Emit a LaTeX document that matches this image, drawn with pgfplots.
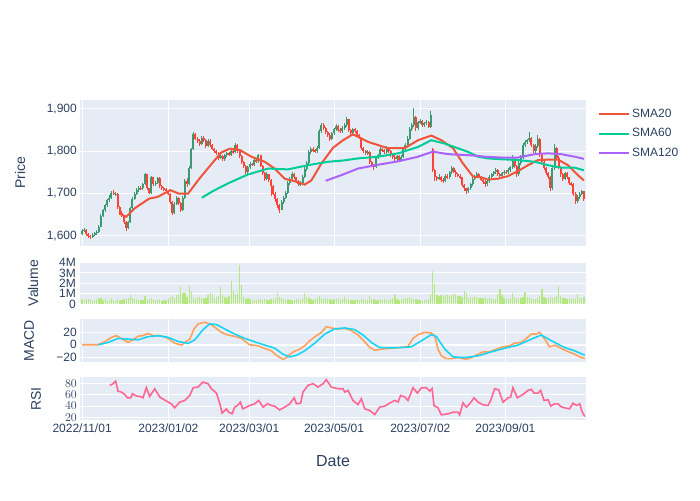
\documentclass[border=0pt]{standalone}
\usepackage{fontspec}
\setmainfont{Liberation Sans}
\usepackage{pgfplots}
\usepackage{pgfplotstable}
\pgfplotsset{compat=1.18}

\definecolor{plotbg}{HTML}{E5ECF6}
\definecolor{txt}{HTML}{2A3F5F}
\definecolor{incr}{HTML}{3D9970}
\definecolor{decr}{HTML}{FF4136}
\definecolor{sma20}{HTML}{EF553B}
\definecolor{sma60}{HTML}{00CC96}
\definecolor{sma120}{HTML}{AB63FA}
\definecolor{macdc}{HTML}{FFA15A}
\definecolor{sigc}{HTML}{19D3F3}
\definecolor{rsic}{HTML}{FF6692}
\definecolor{volc}{HTML}{B6E880}

% daily candles: index, open, high, low, close, volume (millions)
\pgfplotstableread{
i o h l c v
0 1605 1616 1601 1612 0.45
1 1612 1618 1608 1614 0.40
2 1614 1616 1600 1604 0.50
3 1604 1607 1596 1600 0.50
4 1600 1603 1592 1597 0.45
5 1597 1606 1594 1603 0.30
6 1603 1610 1600 1606 0.35
7 1606 1614 1603 1610 0.45
8 1610 1625 1607 1622 0.55
9 1622 1652 1620 1648 0.60
10 1648 1664 1644 1660 0.40
11 1660 1676 1656 1672 0.45
12 1672 1688 1668 1684 0.30
13 1684 1696 1680 1690 0.40
14 1690 1706 1686 1702 0.55
15 1702 1708 1696 1700 0.35
16 1698 1704 1694 1699 0.30
17 1699 1702 1664 1668 0.45
18 1668 1670 1650 1655 0.35
19 1655 1658 1644 1648 0.40
20 1648 1650 1628 1632 0.50
21 1632 1634 1612 1618 0.45
22 1618 1636 1615 1632 0.60
23 1632 1668 1630 1665 0.90
24 1665 1692 1662 1688 0.55
25 1688 1704 1684 1700 0.50
26 1700 1712 1696 1708 0.45
27 1708 1718 1704 1714 0.40
28 1714 1718 1708 1712 0.35
29 1712 1726 1708 1722 0.40
30 1722 1748 1720 1745 0.75
31 1745 1746 1708 1712 0.45
32 1712 1714 1698 1702 0.50
33 1702 1742 1700 1738 0.55
34 1738 1740 1718 1722 0.40
35 1722 1730 1718 1726 0.35
36 1726 1740 1722 1736 0.40
37 1736 1738 1714 1718 0.45
38 1718 1720 1708 1712 0.30
39 1712 1716 1706 1710 0.40
40 1710 1712 1701 1705 0.35
41 1705 1708 1696 1700 0.50
42 1700 1702 1676 1680 0.65
43 1680 1682 1650 1654 0.75
44 1654 1680 1652 1676 0.60
45 1676 1694 1672 1690 0.85
46 1690 1692 1674 1678 1.00
47 1678 1680 1656 1660 1.60
48 1660 1694 1658 1690 1.05
49 1690 1734 1688 1730 1.05
50 1730 1736 1716 1722 0.70
51 1722 1764 1720 1760 1.70
52 1760 1808 1758 1805 1.30
53 1805 1845 1802 1840 0.60
54 1840 1842 1826 1830 0.50
55 1830 1834 1820 1825 0.70
56 1825 1828 1812 1818 0.70
57 1818 1836 1815 1832 0.60
58 1832 1835 1822 1826 0.55
59 1826 1828 1808 1812 0.60
60 1812 1830 1810 1825 0.90
61 1825 1828 1810 1815 1.10
62 1815 1818 1802 1806 0.95
63 1806 1808 1796 1800 0.60
64 1800 1803 1790 1795 0.70
65 1795 1798 1780 1785 0.75
66 1785 1792 1781 1788 1.65
67 1788 1790 1777 1782 0.85
68 1782 1794 1778 1790 0.65
69 1790 1799 1786 1795 0.60
70 1795 1798 1788 1792 0.80
71 1792 1805 1789 1800 2.20
72 1800 1804 1794 1798 1.30
73 1798 1820 1795 1815 1.00
74 1815 1817 1796 1800 1.10
75 1800 1802 1784 1788 3.80
76 1788 1790 1770 1775 1.85
77 1775 1778 1760 1765 0.65
78 1765 1767 1745 1750 0.50
79 1750 1766 1747 1762 0.55
80 1762 1774 1758 1770 0.45
81 1770 1773 1764 1768 0.40
82 1768 1784 1765 1780 0.35
83 1780 1782 1772 1776 0.40
84 1776 1794 1773 1790 0.45
85 1790 1792 1762 1765 0.50
86 1765 1767 1744 1748 0.40
87 1748 1750 1730 1735 0.45
88 1735 1750 1732 1745 0.35
89 1745 1747 1728 1732 0.40
90 1732 1734 1695 1718 0.50
91 1718 1720 1696 1700 0.45
92 1700 1703 1680 1686 0.60
93 1686 1690 1666 1672 1.10
94 1672 1675 1655 1662 0.70
95 1662 1684 1660 1680 0.55
96 1680 1694 1676 1690 0.50
97 1690 1706 1686 1702 0.40
98 1702 1729 1700 1725 0.45
99 1725 1739 1721 1735 0.40
100 1735 1750 1731 1745 0.35
101 1745 1748 1734 1738 0.40
102 1738 1740 1726 1730 0.45
103 1730 1733 1718 1722 0.50
104 1722 1730 1718 1725 0.40
105 1725 1744 1722 1740 0.55
106 1740 1762 1736 1758 1.10
107 1758 1776 1754 1772 0.70
108 1772 1802 1770 1798 0.60
109 1798 1810 1794 1806 0.50
110 1806 1810 1798 1802 0.40
111 1802 1806 1796 1800 0.45
112 1800 1812 1796 1808 0.60
113 1808 1852 1806 1848 0.80
114 1848 1866 1844 1862 0.60
115 1862 1866 1850 1855 0.50
116 1855 1858 1840 1845 0.60
117 1845 1848 1833 1838 0.45
118 1838 1842 1825 1830 0.50
119 1830 1846 1827 1842 0.40
120 1842 1856 1838 1852 0.45
121 1852 1864 1848 1860 0.50
122 1860 1862 1846 1850 0.55
123 1850 1854 1843 1848 0.40
124 1848 1859 1844 1855 0.50
125 1855 1866 1850 1862 0.65
126 1862 1880 1858 1875 0.50
127 1875 1877 1845 1850 0.45
128 1850 1853 1838 1842 0.40
129 1842 1856 1838 1852 0.35
130 1852 1855 1843 1848 0.40
131 1848 1850 1834 1838 0.45
132 1838 1840 1828 1832 0.40
133 1832 1834 1804 1808 0.50
134 1808 1811 1795 1800 0.45
135 1800 1804 1790 1795 0.40
136 1795 1802 1792 1798 0.35
137 1798 1800 1770 1775 0.75
138 1775 1778 1762 1768 0.50
139 1768 1770 1756 1762 0.45
140 1762 1789 1760 1785 0.40
141 1785 1794 1781 1790 0.35
142 1790 1809 1787 1805 0.50
143 1805 1808 1798 1802 0.40
144 1802 1805 1794 1798 0.45
145 1798 1812 1794 1808 0.40
146 1808 1810 1796 1800 0.35
147 1800 1803 1786 1790 0.50
148 1790 1793 1781 1786 0.60
149 1786 1790 1778 1782 0.90
150 1782 1792 1778 1788 0.50
151 1788 1790 1776 1780 0.40
152 1780 1790 1776 1786 0.45
153 1786 1809 1783 1805 0.50
154 1805 1820 1802 1815 0.55
155 1815 1836 1812 1830 0.60
156 1830 1857 1827 1852 0.65
157 1852 1866 1848 1862 0.55
158 1862 1902 1858 1880 0.50
159 1880 1882 1848 1855 0.45
160 1855 1872 1850 1868 0.40
161 1868 1876 1864 1872 0.35
162 1872 1874 1858 1862 0.30
163 1862 1870 1858 1866 0.35
164 1866 1874 1862 1870 0.40
165 1870 1872 1854 1858 0.45
166 1858 1895 1855 1885 1.00
167 1805 1808 1750 1755 3.20
168 1755 1758 1730 1738 1.95
169 1738 1742 1730 1735 0.85
170 1735 1745 1731 1740 0.80
171 1740 1742 1728 1732 0.85
172 1732 1736 1726 1730 0.80
173 1730 1746 1727 1742 0.85
174 1742 1745 1734 1738 0.90
175 1738 1754 1735 1750 0.80
176 1750 1765 1746 1760 0.85
177 1760 1763 1748 1752 0.95
178 1752 1755 1740 1745 1.00
179 1745 1748 1738 1742 0.80
180 1742 1745 1734 1738 0.75
181 1738 1740 1716 1720 0.70
182 1720 1722 1707 1712 1.30
183 1712 1714 1698 1705 1.05
184 1705 1716 1702 1712 0.60
185 1712 1726 1708 1722 0.65
186 1722 1739 1718 1735 0.60
187 1735 1744 1731 1740 0.75
188 1740 1750 1736 1746 0.70
189 1746 1749 1736 1740 0.60
190 1740 1742 1729 1733 0.55
191 1733 1736 1723 1728 0.60
192 1728 1731 1716 1722 0.65
193 1722 1734 1718 1730 0.50
194 1730 1744 1726 1740 0.55
195 1740 1749 1736 1745 0.50
196 1745 1754 1741 1750 0.45
197 1750 1760 1746 1755 0.50
198 1755 1757 1741 1745 1.00
199 1745 1748 1738 1742 1.40
200 1742 1752 1738 1748 0.90
201 1748 1756 1744 1752 0.60
202 1752 1755 1746 1750 0.50
203 1750 1760 1746 1756 0.45
204 1756 1766 1752 1762 0.55
205 1762 1790 1758 1782 1.05
206 1782 1784 1760 1765 0.70
207 1765 1767 1740 1745 0.60
208 1745 1776 1742 1772 0.50
209 1772 1790 1768 1785 0.55
210 1785 1820 1782 1815 0.65
211 1815 1827 1811 1822 1.15
212 1822 1830 1818 1826 0.70
213 1826 1845 1822 1832 0.60
214 1832 1834 1810 1815 0.55
215 1815 1817 1795 1800 0.50
216 1800 1816 1796 1812 0.45
217 1812 1838 1808 1830 0.60
218 1830 1832 1786 1790 0.80
219 1790 1793 1770 1775 1.45
220 1775 1778 1755 1760 0.70
221 1760 1762 1743 1748 0.60
222 1748 1751 1735 1740 0.55
223 1740 1742 1706 1712 0.70
224 1712 1764 1708 1760 0.60
225 1760 1818 1756 1808 0.65
226 1808 1810 1780 1785 0.80
227 1785 1788 1758 1762 1.70
228 1762 1765 1740 1745 0.75
229 1745 1748 1730 1735 0.60
230 1735 1752 1732 1748 0.55
231 1748 1750 1734 1738 0.50
232 1738 1740 1720 1725 0.45
233 1725 1728 1717 1722 0.55
234 1722 1724 1695 1700 0.50
235 1700 1703 1676 1682 0.60
236 1682 1696 1678 1692 1.00
237 1692 1704 1688 1700 0.55
238 1700 1709 1696 1705 0.60
239 1705 1707 1682 1686 0.70
}\candles

\pgfplotsset{
  panel/.style={
    scale only axis, width=506pt, xmin=-1, xmax=240,
    anchor=south west,
    axis background/.style={fill=plotbg},
    axis line style={draw=none},
    major tick length=0pt,
    xmajorgrids, ymajorgrids,
    major grid style={white, line width=1pt},
    tick label style={font=\fontsize{12}{13}\selectfont, text=txt},
    yticklabel style={inner sep=1pt, xshift=-2pt},
    xtick={0,41.1,79.6,120,161.1,201.6},
    xticklabels={},
  },
  candle/.style 2 args={draw=none, forget plot,
    error bars/.cd, y dir=both, y explicit, error mark=none,
    error bar style={draw=#1, solid, line width=#2}},
}

\begin{document}
\begin{tikzpicture}
\path[use as bounding box] (0,0) rectangle (700pt,500pt);

% ---------- price panel ----------
\begin{axis}[panel, at={(80pt,254pt)}, height=146pt,
  ymin=1576, ymax=1921,
  ytick={1600,1700,1800,1900},
  yticklabels={{1,600},{1,700},{1,800},{1,900}},
  legend style={at={(1,1)}, anchor=north west, xshift=12pt, yshift=-7pt,
    draw=none, fill=none, font=\fontsize{12}{14}\selectfont, text=txt,
    row sep=5.5pt, inner sep=0pt},
  legend cell align=left,
  legend image code/.code={\draw[#1, line width=2pt] (0pt,0pt) -- (30pt,0pt);},
]
% wicks
\addplot[restrict expr to domain={\thisrow{c}-\thisrow{o}}{0:1000}, candle={incr}{1pt}]
  table[x=i, y expr={0.5*(\thisrow{h}+\thisrow{l})}, y error expr={0.5*(\thisrow{h}-\thisrow{l})}] {\candles};
\addplot[restrict expr to domain={\thisrow{o}-\thisrow{c}}{0.001:1000}, candle={decr}{1pt}]
  table[x=i, y expr={0.5*(\thisrow{h}+\thisrow{l})}, y error expr={0.5*(\thisrow{h}-\thisrow{l})}] {\candles};
% bodies
\addplot[restrict expr to domain={\thisrow{c}-\thisrow{o}}{0:1000}, candle={incr}{2pt}]
  table[x=i, y expr={0.5*(\thisrow{o}+\thisrow{c})}, y error expr={0.5*(\thisrow{c}-\thisrow{o})}] {\candles};
\addplot[restrict expr to domain={\thisrow{o}-\thisrow{c}}{0.001:1000}, candle={decr}{2pt}]
  table[x=i, y expr={0.5*(\thisrow{o}+\thisrow{c})}, y error expr={0.5*(\thisrow{o}-\thisrow{c})}] {\candles};

\addplot[sma20, line width=2pt] coordinates {
(18,1652) (21,1645) (25,1665) (32,1688) (36,1692) (42,1708) (46,1700) (50.5,1700)
(56,1736) (60,1760) (63.2,1779) (66.3,1797) (70.3,1806) (75.1,1803) (80.6,1787)
(87,1775) (91.7,1759) (96.5,1735) (102,1728) (106,1721) (109.2,1731) (114,1771)
(119.5,1808) (124.3,1826) (129,1840) (136.2,1822) (145.7,1807) (153.6,1807)
(160,1826) (166.3,1837) (171.1,1826) (176.7,1807) (181.4,1771) (186.2,1740)
(190.2,1738) (193.3,1733) (198,1735) (202.8,1741) (207.6,1753) (212.4,1767)
(217.1,1779) (221.9,1780) (226.7,1780) (231.4,1767) (236.2,1743) (239,1731)};
\addlegendentry{SMA20}
\addplot[sma60, line width=2pt] coordinates {
(57,1690) (62.4,1706) (69.5,1724) (79,1745) (88.6,1759) (98,1757) (107.6,1767)
(117.1,1775) (124.3,1778) (131.4,1783) (141,1787) (150.5,1795) (160,1810)
(166.3,1826) (172.7,1818) (179,1807) (184,1798) (188.6,1787) (193.3,1783)
(199.7,1781) (207.6,1779) (215.5,1775) (221.9,1767) (228.2,1761) (234.6,1761) (239,1755)};
\addlegendentry{SMA60}
\addplot[sma120, line width=2pt] coordinates {
(116,1730) (124.3,1745) (131.4,1759) (141,1768) (150.5,1776) (160,1787)
(167.1,1799) (174.3,1793) (186.2,1790) (191.7,1787) (199.7,1785) (207.6,1785)
(215.5,1793) (221.9,1795) (228.2,1793) (234.6,1787) (239,1782)};
\addlegendentry{SMA120}
\end{axis}

% ---------- volume panel ----------
\begin{axis}[panel, at={(80pt,196pt)}, height=42pt,
  xmajorgrids=false,
  ymin=0, ymax=4.05,
  ytick={0,1,2,3,4}, yticklabels={0,1M,2M,3M,4M},
  yticklabel style={inner sep=0pt, xshift=-2pt},
]
\addplot[ycomb, volc, line width=1.3pt, mark=none] table[x=i, y=v] {\candles};
\end{axis}

% ---------- MACD panel ----------
\begin{axis}[panel, at={(80pt,138pt)}, height=43pt,
  ymin=-28, ymax=42,
  ytick={-20,0,20}, yticklabels={−20,0,20},
]
\addplot[white, line width=2pt, forget plot] coordinates {(-1,0) (240,0)};
\addplot[macdc, line width=1.6pt] coordinates {
(0,0) (7.6,0) (10.8,5) (14,12) (16.3,15) (18.7,10) (21.9,4) (24.3,8) (26.7,14)
(29,15) (31.4,18.6) (33.8,15) (37,15) (40.2,12) (42.5,6.6) (44.1,2.7) (47.3,-0.5)
(48.9,3.8) (51.3,9.3) (53.3,25.8) (55.2,34) (58.4,36.7) (60.8,34) (63.2,28.5)
(66.3,20.3) (69.5,15.9) (72.7,13.7) (75.9,10.4) (78.3,3.8) (79.8,0) (83.8,-1.6)
(87,-6) (90.2,-9.9) (92.5,-17) (95.7,-23.6) (97.3,-20.8) (100.5,-11.5) (103.7,-7)
(106,-1.6) (108.4,6.6) (111.6,14.8) (114,20.3) (116.3,29.6) (118.7,27.4)
(121.9,25.8) (125.1,26.8) (128.3,23) (131.4,15.9) (134.6,4.9) (137,-4.4)
(139.4,-8.8) (142.5,-7) (147.3,-5.5) (152.1,-4.4) (155.2,-2.7) (157.6,10.4)
(160,16.4) (163.2,20.3) (166.3,19.2) (167.9,14.8) (169.5,-7) (171.1,-18)
(173.5,-22.5) (175.9,-22.5) (179,-20.8) (183,-23.6) (185.4,-20.8) (188.6,-15.3)
(191,-11.5) (194.1,-11.5) (197.3,-7) (200.5,-3.3) (203.7,-1.6) (206,2.7)
(209.2,3.8) (211.6,10.4) (214,17.5) (216.3,17.5) (217.9,20.3) (220.3,9.3)
(222.7,-3.3) (225.1,-0.5) (228.3,-6) (231.4,-11) (234.6,-15.3) (237.8,-20.8) (239.4,-22)};
\addplot[sigc, line width=1.6pt] coordinates {
(7.6,0) (12.4,3.8) (17.1,10.4) (21.9,9.3) (26.7,8.2) (31.4,13.2) (36.2,14.8)
(41,12) (45.7,5.5) (50.5,2.2) (53.7,8.2) (57.6,24.7) (60.8,34) (64,32.9)
(67.9,25.8) (72.7,17.5) (77.5,10.4) (82.2,4.9) (87,-0.5) (91.7,-5.5) (95.7,-15.3)
(98.9,-19.7) (102.1,-17) (106,-9.9) (110.8,2.7) (115.6,17.5) (120.3,25.8)
(125.1,27.4) (129.8,24.7) (133.8,15.9) (137.8,3.8) (141.7,-4.4) (147.3,-4.9)
(152.1,-4.4) (156.8,-3.3) (161.6,6.6) (166.3,16.4) (168.7,13.7) (172.7,-7)
(176.7,-19.7) (182.2,-20.8) (188.6,-18) (194.9,-11.5) (201.3,-5.5) (207.6,-0.5)
(214,9.3) (218.7,15.9) (223.5,6.6) (229.8,-4.4) (234.6,-9.9) (239.4,-17)};
\end{axis}

% ---------- RSI panel ----------
\begin{axis}[panel, at={(80pt,80pt)}, height=43pt,
  ymin=15, ymax=92,
  ytick={20,40,60,80},
  xticklabels={2022/11/01,2023/01/02,2023/03/01,2023/05/01,2023/07/02,2023/09/01},
]
\addplot[rsic, line width=1.6pt] coordinates {
(13.2,77) (14.8,80) (16,84.8) (17.1,66.8) (18.7,65) (20.3,60.8) (21.6,54.8)
(23.2,54.8) (24,62) (25.9,57.8) (27.5,57.2) (29,54.8) (30.6,72.8) (32.2,57.2)
(34.6,71) (37,56) (40.2,48.8) (42.5,44) (44.1,36.8) (46.5,47) (48.9,50) (51.3,59)
(52.9,72.8) (55.2,74) (57.6,83) (60,80) (61.6,71) (64,63.2) (65.6,44) (66.7,27.2)
(68.7,35) (69.8,29) (71.4,26) (72.7,38) (74,41) (75.4,47) (76.5,35) (78.3,38)
(79.8,41) (82.2,44) (84.1,50) (86.2,38) (88.3,44) (90.2,41) (91.7,39.8) (94.1,33)
(96.5,38) (98.9,44) (101,54.8) (102.1,44) (104.1,45.2) (105.2,65) (107.6,77)
(110,80) (112.4,74) (114.8,80) (116.3,87.2) (118.7,74) (121.9,71) (124.3,71)
(125.1,65) (126.7,68) (129,50) (131.4,42.8) (133,53) (134.6,35) (137,32)
(139.4,24.8) (141.7,38) (144.1,39.8) (146.5,45.2) (148.9,50) (150.5,47)
(151.7,59) (153.7,56) (155.2,50) (157.6,72.8) (159.7,63.2) (161.6,72.8)
(163.9,72.8) (165.6,66.8) (166.7,71) (167.6,41) (169.5,36.8) (171.1,24.2)
(174.3,26) (176.7,29) (179,29) (179.8,24.2) (181.4,45.8) (183,38) (184.6,44)
(186.7,54.8) (188.6,47) (191,42.2) (193.3,41) (194.6,50) (196.5,71) (198.4,69.2)
(200.5,47) (202.9,54.8) (204.1,56) (205.2,72.8) (207.3,54.8) (210,60.8)
(212.4,68) (214,69.8) (215.2,63.2) (217.1,63.2) (218.4,68) (220,50) (221.9,51.2)
(223.2,39.8) (225.1,44) (226.7,44) (227.9,39.2) (229.8,36.8) (232.2,35)
(233.8,45.2) (235.4,41) (237,44) (238.1,30.2) (239.4,21.2)};
\end{axis}

% ---------- axis titles ----------
\begin{scope}[every node/.style={font=\fontsize{14}{16}\selectfont, text=txt}]
\node[rotate=90] at (20pt,327pt) {Price};
\node[rotate=90] at (33pt,217pt) {Valume};
\node[rotate=90] at (29pt,159pt) {MACD};
\node[rotate=90] at (36pt,101pt) {RSI};
\node[font=\fontsize{16}{18}\selectfont] at (333pt,39pt) {Date};
\end{scope}
\end{tikzpicture}
\end{document}
